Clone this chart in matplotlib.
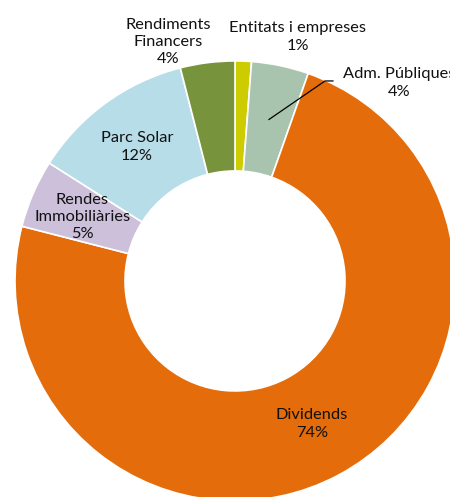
import matplotlib.pyplot as plt
import numpy as np

# Data (share of income, %)
labels = ['Entitats i empreses', 'Adm. Públiques', 'Dividends',
          'Rendes\nImmobiliàries', 'Parc Solar', 'Rendiments\nFinancers']
values = [1.2, 4.2, 73.6, 5.0, 12.0, 4.0]
colors = ['#CCCC00', '#A9C4AE', '#E46C0A', '#CCC0DA', '#B7DDE8', '#77933C']

# label positions (data coords, outer radius = 1)
label_pos = [(0.286, 1.109), (0.745, 0.90), (0.35, -0.65),
             (-0.695, 0.291), (-0.445, 0.609), (-0.305, 1.086)]

plt.rcParams['font.family'] = ['Lato', 'DejaVu Sans']

fig = plt.figure(figsize=(4.5, 4.97), dpi=100)
ax = fig.add_axes([0, 0, 1, 1])

ax.pie(values, colors=colors, startangle=90, counterclock=False, radius=1,
       wedgeprops=dict(width=0.5, edgecolor='white', linewidth=1.2))

for lab, val, (x, y) in zip(labels, values, label_pos):
    ax.text(x, y, f'{lab}\n{round(val):.0f}%', ha='center', va='center',
            fontsize=11.8, color='#111111', linespacing=1.3)

# leader line for Adm. Públiques
start = sum(values[:1]) + values[1] / 2
ang = np.deg2rad(90 - start / sum(values) * 360)
ax.plot([0.75 * np.cos(ang), 0.409, 0.445],
        [0.75 * np.sin(ang), 0.909, 0.909], color='black', lw=0.9)

ax.set_xlim(-1.068, 0.977)
ax.set_ylim(-0.982, 1.277)
ax.set_aspect('equal')
ax.axis('off')

plt.savefig('out.png', dpi=100)
plt.close()
